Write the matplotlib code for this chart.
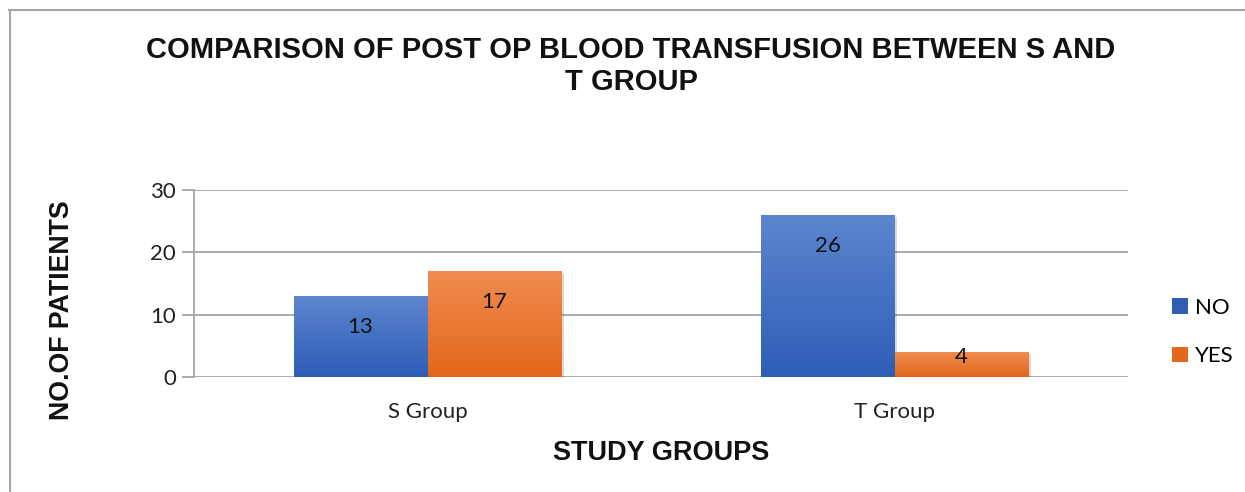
import numpy as np
import matplotlib
matplotlib.use("Agg")
import matplotlib.pyplot as plt
from matplotlib.patches import Rectangle, Patch
from matplotlib.colors import LinearSegmentedColormap

categories = ["S Group", "T Group"]
series_names = ["NO", "YES"]
no_values = [13, 26]
yes_values = [17, 4]
yticks = [0, 10, 20, 30]

title = "COMPARISON OF POST OP BLOOD TRANSFUSION BETWEEN S AND\nT GROUP"
xlabel = "STUDY GROUPS"
ylabel = "NO.OF PATIENTS"

blue_top, blue_bot = "#5d86cf", "#2e5db6"
orange_top, orange_bot = "#f08c50", "#e3661a"

W, H = 1245, 492
fig = plt.figure(figsize=(W / 100, H / 100), dpi=100)
fig.patch.set_facecolor("white")

# outer frame (top and left lines visible)
fig.add_artist(plt.Line2D([9 / W, 1.0], [1 - 9.5 / H, 1 - 9.5 / H], color="#a6a6a6", lw=1.5, transform=fig.transFigure))
fig.add_artist(plt.Line2D([9.5 / W, 9.5 / W], [0, 1 - 9.5 / H], color="#a6a6a6", lw=1.5, transform=fig.transFigure))

ax = fig.add_axes([194 / W, 1 - 377 / H, (1128 - 194) / W, (377 - 190) / H])
ax.set_xlim(-0.5, 1.5)
ax.set_ylim(0, 30)

for s in ["top", "right", "bottom"]:
    ax.spines[s].set_visible(False)
ax.spines["left"].set_color("#a6a6a6")
ax.spines["left"].set_linewidth(1.3)

ax.set_yticks(yticks)
ax.yaxis.grid(True, color="#a6a6a6", linewidth=1.3)
ax.set_axisbelow(True)
ax.tick_params(axis="y", length=9, width=1.3, color="#a6a6a6", pad=4, labelsize=16, labelcolor="#222222")
ax.tick_params(axis="x", length=0, pad=18, labelsize=16, labelcolor="#222222")
for lab in ax.get_yticklabels() + ax.get_xticklabels():
    lab.set_family("Lato")

x = np.arange(len(categories))
ax.set_xticks(x)
ax.set_xticklabels(categories)
for lab in ax.get_xticklabels():
    lab.set_family("Lato")

bw = 134 / 467

def grad_bar(xc, h, ctop, cbot):
    x0 = xc - bw / 2
    cmap = LinearSegmentedColormap.from_list("g", [cbot, ctop])
    sh = Rectangle((x0 + 0.006, 0 - 0.35), bw, h, facecolor="#000000", alpha=0.15, edgecolor="none", zorder=2)
    ax.add_patch(sh)
    rect = Rectangle((x0, 0), bw, h, facecolor="none", edgecolor="none", zorder=3)
    ax.add_patch(rect)
    grad = np.linspace(0, 1, 256).reshape(-1, 1)
    im = ax.imshow(grad, extent=[x0, x0 + bw, 0, h], origin="lower", cmap=cmap, aspect="auto", zorder=3, interpolation="bilinear")
    im.set_clip_path(rect)
    px_per_unit = (377 - 190) / 30.0
    hpx = h * px_per_unit
    off = min(31, hpx - 20)
    ax.annotate(str(h), xy=(xc, h), xytext=(0, -off * 0.72), textcoords="offset points",
                ha="center", va="center", fontsize=16, family="Lato", color="#111111", zorder=5)

for i in range(len(categories)):
    grad_bar(x[i] - bw / 2, no_values[i], blue_top, blue_bot)
    grad_bar(x[i] + bw / 2, yes_values[i], orange_top, orange_bot)

ax.set_xlim(-0.5, 1.5)
ax.set_ylim(0, 30)

ax.set_xlabel(xlabel, fontsize=19.5, fontweight="bold", family="Liberation Sans", labelpad=13, color="#111111")
fig.text(62 / W, 1 - 310 / H, ylabel, rotation=90, ha="center", va="center", fontsize=19.3,
         fontweight="bold", family="Liberation Sans", color="#111111")
fig.text(631 / W, 1 - 66 / H, title, ha="center", va="center", fontsize=21, fontweight="bold",
         family="Liberation Sans", color="#111111", linespacing=1.18)

handles = [Patch(facecolor=blue_bot, edgecolor="none"), Patch(facecolor=orange_bot, edgecolor="none")]
leg = fig.legend(handles, series_names, loc="center left", bbox_to_anchor=(1152 / W, 1 - 332 / H),
                 frameon=False, handlelength=0.7, handleheight=0.7, handletextpad=0.35,
                 labelspacing=1.3, prop={"family": "Lato", "size": 16})

fig.savefig("out.png", dpi=100)
